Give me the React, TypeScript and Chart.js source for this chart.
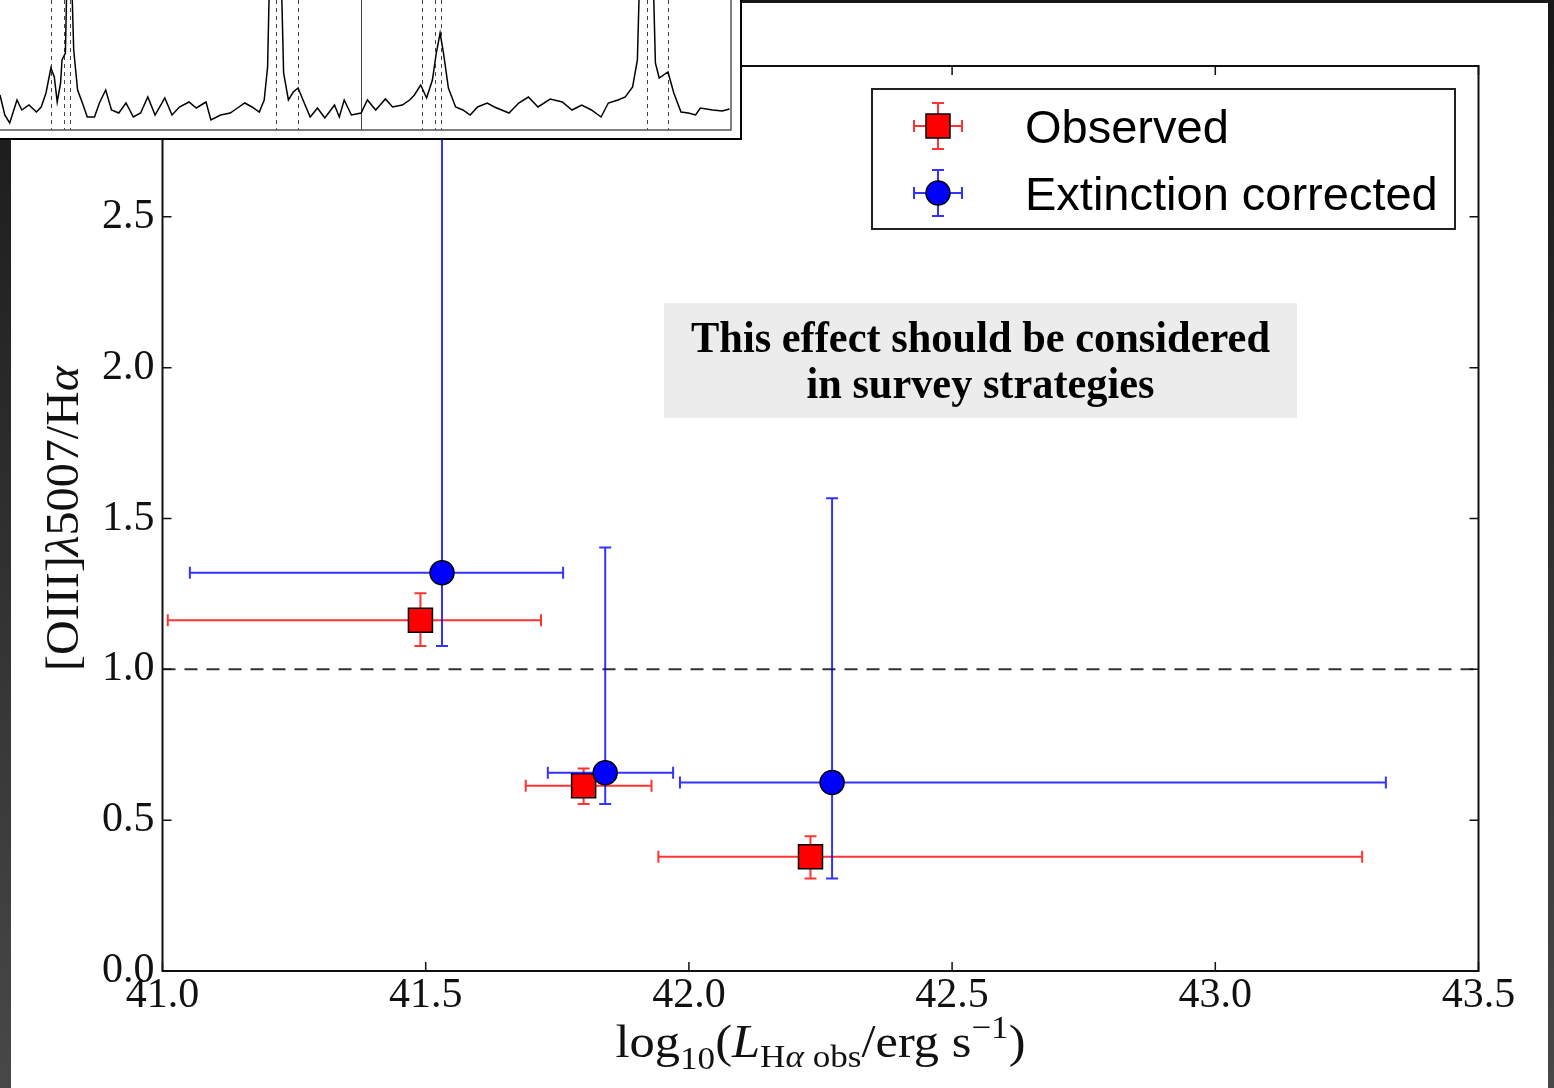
import React, { useEffect, useRef } from 'react';
import { Chart, registerables } from 'chart.js';
Chart.register(...registerables);

const PAGE_W = 1554;
const PAGE_H = 1088;
const INSET_W = 742;
const INSET_H = 140;

// ---------- Main chart data ----------
const seriesLabels = ['Observed', 'Extinction corrected'];

const observedX = [41.49, 41.8, 42.231];
const observedY = [1.163, 0.614, 0.379];
const observedXLow = [41.01, 41.69, 41.942];
const observedXHigh = [41.719, 41.929, 43.279];
const observedYLow = [1.077, 0.554, 0.307];
const observedYHigh = [1.252, 0.671, 0.447];

const correctedX = [41.531, 41.841, 42.272];
const correctedY = [1.32, 0.657, 0.625];
const correctedXLow = [41.052, 41.732, 41.983];
const correctedXHigh = [41.761, 41.97, 43.324];
const correctedYLow = [1.077, 0.554, 0.307];
const correctedYHigh = [3.4, 1.404, 1.567];

const referenceLevel = 1.0;
const xTicks = [41.0, 41.5, 42.0, 42.5, 43.0, 43.5];
const yTicks = [0.0, 0.5, 1.0, 1.5, 2.0, 2.5, 3.0];
const annotationLines = ['This effect should be considered', 'in survey strategies'];

// ---------- Inset spectrum data ----------
const spectrumWave = [
  0, 4.8, 9.7, 17, 21.8, 29, 36.4, 41.2, 46, 50.9, 54.3, 57.2, 60.6, 62, 65.4, 67.9, 70.3, 73.7, 77.6, 82.4,
  87.3, 94.5, 99.4, 105.7, 111.5, 118.8, 126, 133.3, 140.6, 147.8, 155.1, 164.8, 172, 179.4, 189, 196.3, 206, 210.9,
  220.6, 230.2, 237.5, 244.8, 252, 259.3, 264.2, 267.6, 270.5, 280.2, 283.6, 288.4, 293.3, 298.1, 303, 310.2, 317.5,
  324.8, 334.5, 339.3, 344.2, 351.4, 361.1, 367.4, 375.7, 385.4, 392.6, 402.3, 409.6, 414.4, 420.7, 426.6, 432.4,
  436.3, 440.1, 443.5, 448.4, 455.6, 462.9, 470.2, 477.5, 487.2, 494.4, 509, 518.7, 528.4, 538, 550.2, 562.3, 572,
  581.7, 591.4, 601.1, 608.3, 618, 625.3, 632.6, 637.4, 640.8, 652, 655.4, 659.2, 668, 673.8, 681, 688.3, 695.6,
  700.4, 712.6, 722.3, 729.5,
];
const spectrumFlux = [
  35, 15, 7, 30, 20, 25, 18, 23, 37, 62, 53, 28, 47, 70, 77, 200, 200, 80, 40, 27,
  13, 13, 27, 40, 20, 17, 27, 13, 17, 33, 15, 32, 15, 23, 28, 22, 28, 10,
  15, 17, 22, 27, 23, 18, 30, 63, 200, 200, 57, 30, 38, 42, 30, 13, 22,
  12, 25, 13, 30, 15, 17, 30, 20, 31, 23, 25, 30, 35, 45, 32, 50,
  77, 97, 77, 42, 23, 20, 15, 23, 27, 23, 17, 27, 33, 23, 31, 28, 20,
  25, 20, 13, 27, 30, 33, 43, 70, 200, 200, 67, 52, 58, 37, 18, 17, 15,
  22, 20, 19, 21,
];
const lineMarkersDashed = [51, 64, 70, 276, 297.6, 421.7, 434.8, 441, 647, 668];
const panelDividers = [360.6];
const insetXRange = [0, 731];
const insetYRange = [0, 130];

const SERIF = "'Liberation Serif', 'Times New Roman', serif";
const SANS = "'Liberation Sans', Arial, sans-serif";

type Seg = { t: string; italic?: boolean; bold?: boolean; scale?: number; shift?: number };

function drawRich(
  ctx: CanvasRenderingContext2D,
  segs: Seg[],
  cx: number,
  baseline: number,
  size: number,
  family: string,
  targetWidth?: number
) {
  const fontFor = (s: Seg) => `${s.italic ? 'italic ' : ''}${s.bold ? 'bold ' : ''}${Math.round(size * (s.scale ?? 1))}px ${family}`;
  const widths = segs.map((s) => {
    ctx.font = fontFor(s);
    return ctx.measureText(s.t).width;
  });
  const total = widths.reduce((a, b) => a + b, 0);
  const sx = targetWidth ? targetWidth / total : 1;
  ctx.save();
  ctx.translate(cx, baseline);
  ctx.scale(sx, 1);
  let x = -total / 2;
  ctx.textAlign = 'left';
  ctx.textBaseline = 'alphabetic';
  segs.forEach((s, i) => {
    ctx.font = fontFor(s);
    ctx.fillText(s.t, x, (s.shift ?? 0) * size);
    x += widths[i];
  });
  ctx.restore();
}

function buildPoints(xs: number[], ys: number[], xl: number[], xh: number[], yl: number[], yh: number[]) {
  return xs.map((x, i) => ({ x, y: ys[i], xMin: xl[i], xMax: xh[i], yMin: yl[i], yMax: yh[i] }));
}

function drawErrorCross(ctx: CanvasRenderingContext2D, px: number, py: number, x0: number, x1: number, y0: number, y1: number, cap: number) {
  ctx.beginPath();
  ctx.moveTo(x0, py);
  ctx.lineTo(x1, py);
  ctx.moveTo(x0, py - cap);
  ctx.lineTo(x0, py + cap);
  ctx.moveTo(x1, py - cap);
  ctx.lineTo(x1, py + cap);
  ctx.moveTo(px, y0);
  ctx.lineTo(px, y1);
  ctx.moveTo(px - cap, y0);
  ctx.lineTo(px + cap, y0);
  ctx.moveTo(px - cap, y1);
  ctx.lineTo(px + cap, y1);
  ctx.stroke();
}

function drawMarker(ctx: CanvasRenderingContext2D, style: string, x: number, y: number, fill: string) {
  ctx.fillStyle = fill;
  ctx.strokeStyle = '#000';
  ctx.lineWidth = 1.5;
  ctx.beginPath();
  if (style === 'rect') {
    ctx.rect(x - 12, y - 12, 24, 24);
  } else {
    ctx.arc(x, y, 12, 0, Math.PI * 2);
  }
  ctx.fill();
  ctx.stroke();
}

const backgroundPlugin = {
  id: 'pageBackground',
  beforeDraw(chart: any) {
    const ctx = chart.ctx as CanvasRenderingContext2D;
    ctx.save();
    const g = ctx.createLinearGradient(0, 0, 0, PAGE_H);
    g.addColorStop(0, '#181818');
    g.addColorStop(1, '#484848');
    ctx.fillStyle = g;
    ctx.fillRect(0, 0, PAGE_W, PAGE_H);
    ctx.fillStyle = '#ffffff';
    ctx.fillRect(11, 3, 1548 - 11, PAGE_H - 3);
    ctx.restore();
  },
};

const errorBarPlugin = {
  id: 'errorBars',
  beforeDatasetDraw(chart: any, args: any) {
    const ds: any = chart.data.datasets[args.index];
    if (!ds.errorColor) return;
    const ctx = chart.ctx as CanvasRenderingContext2D;
    const ca = chart.chartArea;
    const xs = chart.scales.x;
    const ys = chart.scales.y;
    ctx.save();
    ctx.beginPath();
    ctx.rect(ca.left, ca.top, ca.right - ca.left, ca.bottom - ca.top);
    ctx.clip();
    ctx.strokeStyle = ds.errorColor;
    ctx.lineWidth = 2;
    ds.data.forEach((p: any) => {
      drawErrorCross(
        ctx,
        xs.getPixelForValue(p.x),
        ys.getPixelForValue(p.y),
        xs.getPixelForValue(p.xMin),
        xs.getPixelForValue(p.xMax),
        ys.getPixelForValue(p.yMin),
        ys.getPixelForValue(p.yMax),
        6
      );
    });
    ctx.restore();
  },
};

const framePlugin = {
  id: 'frameTicks',
  afterDatasetsDraw(chart: any) {
    const ctx = chart.ctx as CanvasRenderingContext2D;
    const ca = chart.chartArea;
    const xs = chart.scales.x;
    const ys = chart.scales.y;
    ctx.save();
    ctx.strokeStyle = '#111';
    ctx.lineWidth = 2;
    ctx.strokeRect(ca.left, ca.top, ca.right - ca.left, ca.bottom - ca.top);
    ctx.lineWidth = 1.5;
    const tl = 9;
    ctx.beginPath();
    xTicks.forEach((v) => {
      const px = xs.getPixelForValue(v);
      ctx.moveTo(px, ca.bottom);
      ctx.lineTo(px, ca.bottom - tl);
      ctx.moveTo(px, ca.top);
      ctx.lineTo(px, ca.top + tl);
    });
    yTicks.forEach((v) => {
      const py = ys.getPixelForValue(v);
      ctx.moveTo(ca.left, py);
      ctx.lineTo(ca.left + tl, py);
      ctx.moveTo(ca.right, py);
      ctx.lineTo(ca.right - tl, py);
    });
    ctx.stroke();
    ctx.restore();
  },
};

const overlayPlugin = {
  id: 'overlays',
  afterDraw(chart: any) {
    const ctx = chart.ctx as CanvasRenderingContext2D;
    const ca = chart.chartArea;
    ctx.save();
    ctx.fillStyle = '#111';

    // x axis title
    const cx = (ca.left + ca.right) / 2;
    drawRich(
      ctx,
      [
        { t: 'log' },
        { t: '10', scale: 0.7, shift: 0.26 },
        { t: '(' },
        { t: 'L', italic: true },
        { t: 'H', scale: 0.7, shift: 0.22 },
        { t: 'α', italic: true, scale: 0.7, shift: 0.22 },
        { t: ' obs', scale: 0.7, shift: 0.22 },
        { t: '/erg s' },
        { t: '−1', scale: 0.7, shift: -0.42 },
        { t: ')' },
      ],
      cx,
      1057,
      46,
      SERIF,
      410
    );

    // y axis title
    ctx.save();
    ctx.translate(78, (ca.top + ca.bottom) / 2);
    ctx.rotate(-Math.PI / 2);
    drawRich(
      ctx,
      [{ t: '[OIII]' }, { t: 'λ', italic: true }, { t: '5007/H' }, { t: 'α', italic: true }],
      0,
      0,
      46,
      SERIF,
      305
    );
    ctx.restore();

    // annotation box
    ctx.fillStyle = '#ececec';
    ctx.fillRect(664, 303, 633, 115);
    ctx.fillStyle = '#000';
    ctx.font = `bold 45px ${SERIF}`;
    ctx.textAlign = 'center';
    ctx.textBaseline = 'alphabetic';
    const acx = 664 + 633 / 2;
    annotationLines.forEach((line, i) => {
      const w = ctx.measureText(line).width;
      const target = i === 0 ? 579 : 348;
      ctx.save();
      ctx.translate(acx, i === 0 ? 352 : 398);
      ctx.scale(Math.min(1, target / w), 1);
      ctx.fillText(line, 0, 0);
      ctx.restore();
    });

    // legend
    ctx.fillStyle = '#fff';
    ctx.fillRect(872, 89, 583, 140);
    ctx.strokeStyle = '#222';
    ctx.lineWidth = 2;
    ctx.strokeRect(872, 89, 583, 140);
    const entries = chart.data.datasets.filter((d: any) => d.errorColor);
    const rowY = [126, 193];
    entries
      .slice()
      .sort((a: any, b: any) => a.legendRank - b.legendRank)
      .forEach((d: any, i: number) => {
        const y = rowY[i];
        ctx.strokeStyle = d.errorColor;
        ctx.lineWidth = 2;
        drawErrorCross(ctx, 938, y, 914, 962, y + 23, y - 23, 6);
        drawMarker(ctx, d.pointStyle, 938, y, d.backgroundColor);
        ctx.fillStyle = '#000';
        ctx.font = `47px ${SANS}`;
        ctx.textAlign = 'left';
        ctx.textBaseline = 'alphabetic';
        ctx.fillText(d.label, 1025, y + 17);
      });
    ctx.restore();
  },
};

function MainChart() {
  const ref = useRef<HTMLCanvasElement>(null);
  useEffect(() => {
    if (!ref.current) return;
    const chart = new Chart(ref.current, {
      type: 'scatter',
      data: {
        datasets: [
          {
            type: 'line',
            label: 'ref',
            data: [
              { x: xTicks[0], y: referenceLevel },
              { x: xTicks[xTicks.length - 1], y: referenceLevel },
            ],
            borderColor: '#333',
            borderWidth: 2,
            borderDash: [13, 9],
            pointRadius: 0,
            fill: false,
            order: 3,
          } as any,
          {
            label: seriesLabels[0],
            data: buildPoints(observedX, observedY, observedXLow, observedXHigh, observedYLow, observedYHigh),
            pointStyle: 'rect',
            pointRadius: 17,
            backgroundColor: '#ff0000',
            borderColor: '#000',
            borderWidth: 1.5,
            errorColor: 'rgba(255,0,0,0.8)',
            legendRank: 0,
            order: 2,
          } as any,
          {
            label: seriesLabels[1],
            data: buildPoints(correctedX, correctedY, correctedXLow, correctedXHigh, correctedYLow, correctedYHigh),
            pointStyle: 'circle',
            pointRadius: 12,
            backgroundColor: '#0000ff',
            borderColor: '#000',
            borderWidth: 1.5,
            errorColor: 'rgba(0,0,255,0.8)',
            legendRank: 1,
            order: 1,
          } as any,
        ],
      },
      options: {
        animation: false,
        responsive: false,
        events: [],
        layout: { padding: { left: 0, top: 66, right: 75.5, bottom: 0 } },
        plugins: { legend: { display: false }, tooltip: { enabled: false } },
        scales: {
          x: {
            type: 'linear',
            min: xTicks[0],
            max: xTicks[xTicks.length - 1],
            grid: { display: false, drawTicks: false },
            border: { display: false },
            afterBuildTicks: (s: any) => {
              s.ticks = xTicks.map((v) => ({ value: v }));
            },
            afterFit: (s: any) => {
              s.height = PAGE_H - 971;
            },
            ticks: {
              padding: 0,
              color: '#111',
              font: { family: SERIF, size: 42 },
              callback: (v: any) => Number(v).toFixed(1),
            },
          },
          y: {
            type: 'linear',
            min: yTicks[0],
            max: yTicks[yTicks.length - 1],
            grid: { display: false, drawTicks: false },
            border: { display: false },
            afterBuildTicks: (s: any) => {
              s.ticks = yTicks.map((v) => ({ value: v }));
            },
            afterFit: (s: any) => {
              s.width = 162.5;
            },
            ticks: {
              padding: 8,
              color: '#111',
              font: { family: SERIF, size: 42 },
              callback: (v: any) => Number(v).toFixed(1),
            },
          },
        },
      } as any,
      plugins: [backgroundPlugin, errorBarPlugin, framePlugin, overlayPlugin],
    });
    return () => chart.destroy();
  }, []);
  return <canvas ref={ref} width={PAGE_W} height={PAGE_H} style={{ position: 'absolute', left: 0, top: 0 }} />;
}

const insetPlugin = {
  id: 'insetDecor',
  beforeDraw(chart: any) {
    const ctx = chart.ctx as CanvasRenderingContext2D;
    ctx.save();
    ctx.fillStyle = '#fff';
    ctx.fillRect(0, 0, INSET_W, INSET_H);
    ctx.restore();
  },
  beforeDatasetsDraw(chart: any) {
    const ctx = chart.ctx as CanvasRenderingContext2D;
    const ca = chart.chartArea;
    const xs = chart.scales.x;
    ctx.save();
    ctx.strokeStyle = '#444';
    ctx.lineWidth = 1;
    ctx.setLineDash([4, 4]);
    ctx.beginPath();
    lineMarkersDashed.forEach((v) => {
      const px = Math.round(xs.getPixelForValue(v)) + 0.5;
      ctx.moveTo(px, ca.top);
      ctx.lineTo(px, ca.bottom);
    });
    ctx.stroke();
    ctx.setLineDash([]);
    ctx.beginPath();
    panelDividers.forEach((v) => {
      const px = Math.round(xs.getPixelForValue(v)) + 0.5;
      ctx.moveTo(px, ca.top);
      ctx.lineTo(px, ca.bottom);
    });
    ctx.stroke();
    ctx.restore();
  },
  afterDraw(chart: any) {
    const ctx = chart.ctx as CanvasRenderingContext2D;
    const ca = chart.chartArea;
    ctx.save();
    ctx.strokeStyle = '#555';
    ctx.lineWidth = 1.5;
    ctx.beginPath();
    ctx.moveTo(0, ca.bottom);
    ctx.lineTo(ca.right, ca.bottom);
    ctx.lineTo(ca.right, 0);
    ctx.stroke();
    ctx.strokeStyle = '#000';
    ctx.lineWidth = 2;
    ctx.beginPath();
    ctx.moveTo(0, INSET_H - 1);
    ctx.lineTo(INSET_W - 1, INSET_H - 1);
    ctx.lineTo(INSET_W - 1, 0);
    ctx.stroke();
    ctx.restore();
  },
};

function InsetChart() {
  const ref = useRef<HTMLCanvasElement>(null);
  useEffect(() => {
    if (!ref.current) return;
    const chart = new Chart(ref.current, {
      type: 'line',
      data: {
        datasets: [
          {
            label: 'spectrum',
            data: spectrumWave.map((w, i) => ({ x: w, y: spectrumFlux[i] })),
            borderColor: '#000',
            borderWidth: 1.5,
            pointRadius: 0,
            tension: 0,
            fill: false,
          },
        ],
      },
      options: {
        animation: false,
        responsive: false,
        events: [],
        layout: { padding: { left: 0, top: 0, right: INSET_W - 731, bottom: INSET_H - 130 } },
        plugins: { legend: { display: false }, tooltip: { enabled: false } },
        scales: {
          x: { type: 'linear', min: insetXRange[0], max: insetXRange[1], display: false },
          y: { type: 'linear', min: insetYRange[0], max: insetYRange[1], display: false },
        },
      } as any,
      plugins: [insetPlugin],
    });
    return () => chart.destroy();
  }, []);
  return <canvas ref={ref} width={INSET_W} height={INSET_H} style={{ position: 'absolute', left: 0, top: 0 }} />;
}

export default function App() {
  return (
    <div style={{ position: 'fixed', left: 0, top: 0, width: PAGE_W, height: PAGE_H, overflow: 'hidden', background: '#fff' }}>
      <MainChart />
      <InsetChart />
    </div>
  );
}
